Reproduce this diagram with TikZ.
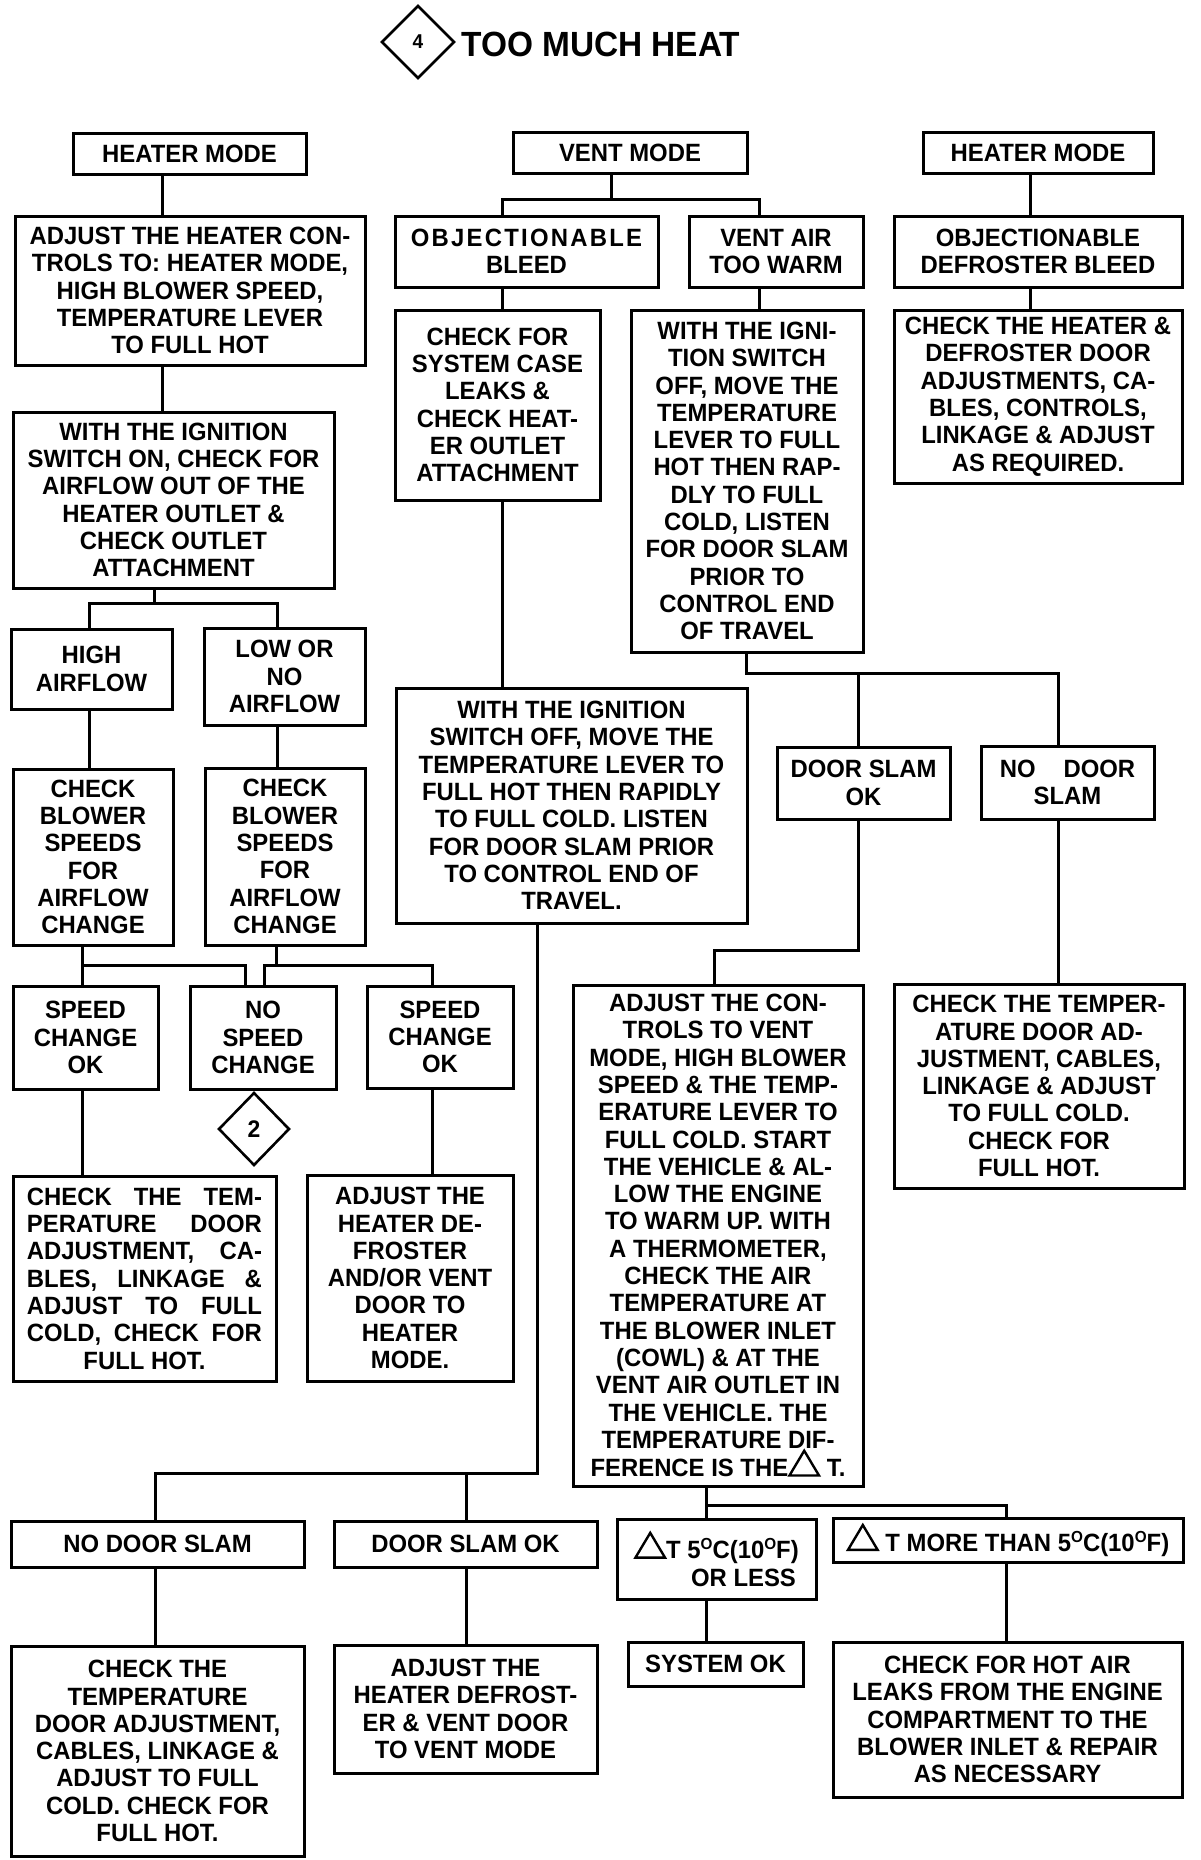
\documentclass[tikz,border=0pt]{standalone}
\usepackage{fontspec}
\usetikzlibrary{shapes.geometric}
\newfontfamily\boxfam{Liberation Sans}[FakeStretch=0.955]
\newcommand\boxfont{\boxfam\bfseries\fontsize{25}{27.3}\selectfont}
\newcommand\dg{\raisebox{9pt}{\fontsize{16}{16}\selectfont O}}
\newcommand\tri{\tikz[baseline=0pt,x=1pt,y=1pt]\draw[line width=2.4pt,line join=miter] (1.2,1.2)--(30.8,1.2)--(16,26)--cycle;}
\newcommand\jl[1]{\makebox[235pt][s]{#1}}
\tikzset{
  box/.style={draw, line width=3pt, inner sep=0pt, align=center, font=\boxfont},
  bx/.style 2 args={box, minimum width=#1pt, minimum height=#2pt},
  conn/.style={line width=3pt, line join=miter},
  mark4/.style={diamond, draw, line width=2.6pt, inner sep=0pt, font=\boxfam\bfseries\fontsize{20}{20}\selectfont},
}
\begin{document}
\begin{tikzpicture}[x=1pt,y=-1pt]
\path[fill=white,use as bounding box] (0,0) rectangle (1200,1860);

% title
\node[mark4, minimum width=73pt, minimum height=73pt] (d4) at (418,42) {4};
\node[anchor=west, inner sep=0pt, font=\boxfam\bfseries\fontsize{35}{35}\selectfont] (title) at (461,44) {TOO MUCH HEAT};

% row 1
\node[bx={233}{41}] (hm1) at (189.5,153.5) {HEATER MODE};
\node[bx={234}{41}] (vm) at (630,152.5) {VENT MODE};
\node[bx={230}{41}] (hm2) at (1038,152.5) {HEATER MODE};

% row 2
\node[bx={350}{149}] (adj) at (190,290.5) {ADJUST THE HEATER CON-\\TROLS TO: HEATER MODE,\\HIGH BLOWER SPEED,\\TEMPERATURE LEVER\\TO FULL HOT};
\node[bx={263}{71}] (ob) at (526.5,251.5) {{\addfontfeature{LetterSpace=9}OBJECTIONABLE}\\BLEED};
\node[bx={174}{71}] (vt) at (776,251.5) {VENT AIR\\TOO WARM};
\node[bx={288}{71}] (odb) at (1038,251.5) {OBJECTIONABLE\\DEFROSTER BLEED};

% row 3
\node[bx={205}{190}] (csc) at (497.5,405) {CHECK FOR\\SYSTEM CASE\\LEAKS \&\\CHECK HEAT-\\ER OUTLET\\ATTACHMENT};
\node[bx={232}{342}] (wio) at (747,481) {WITH THE IGNI-\\TION SWITCH\\OFF, MOVE THE\\TEMPERATURE\\LEVER TO FULL\\HOT THEN RAP-\\DLY TO FULL\\COLD, LISTEN\\FOR DOOR SLAM\\PRIOR TO\\CONTROL END\\OF TRAVEL};
\node[bx={288}{173}] (chd) at (1038,396.5) {CHECK THE HEATER \&\\DEFROSTER DOOR\\ADJUSTMENTS, CA-\\BLES, CONTROLS,\\LINKAGE \& ADJUST\\AS REQUIRED.};
\node[bx={321}{176}] (wi1) at (173.5,500) {WITH THE IGNITION\\SWITCH ON, CHECK FOR\\AIRFLOW OUT OF THE\\HEATER OUTLET \&\\CHECK OUTLET\\ATTACHMENT};

% left column
\node[bx={161}{80}] (ha) at (91.5,669) {HIGH\\AIRFLOW};
\node[bx={161}{97}] (lna) at (284.5,676.5) {LOW OR\\NO\\AIRFLOW};
\node[bx={160}{176}] (cb1) at (93,857) {CHECK\\BLOWER\\SPEEDS\\FOR\\AIRFLOW\\CHANGE};
\node[bx={160}{177}] (cb2) at (285,856.5) {CHECK\\BLOWER\\SPEEDS\\FOR\\AIRFLOW\\CHANGE};
\node[bx={145}{103}] (sc1) at (85.5,1037.5) {SPEED\\CHANGE\\OK};
\node[bx={146}{103}] (nsc) at (263,1037.5) {NO\\SPEED\\CHANGE};
\node[bx={146}{102}] (sc2) at (440,1037) {SPEED\\CHANGE\\OK};
\node[mark4, minimum width=71pt, minimum height=73pt, font=\boxfam\bfseries\fontsize{24}{24}\selectfont] (d2) at (254,1129) {2};
\node[bx={263}{205}] (ctd1) at (144.5,1278.5) {\jl{CHECK THE TEM-}\\\jl{PERATURE DOOR}\\\jl{ADJUSTMENT, CA-}\\\jl{BLES, LINKAGE \&}\\\jl{ADJUST TO FULL}\\\jl{COLD, CHECK FOR}\\FULL HOT.};
\node[bx={206}{206}] (ahd) at (410,1278) {ADJUST THE\\HEATER DE-\\FROSTER\\AND/OR VENT\\DOOR TO\\HEATER\\MODE.};

% middle
\node[bx={351}{235}] (wio2) at (571.5,805.5) {WITH THE IGNITION\\SWITCH OFF, MOVE THE\\TEMPERATURE LEVER TO\\FULL HOT THEN RAPIDLY\\TO FULL COLD. LISTEN\\FOR DOOR SLAM PRIOR\\TO CONTROL END OF\\TRAVEL.};
\node[bx={293}{46}] (nds) at (157.5,1544) {NO DOOR SLAM};
\node[bx={263}{46}] (dsok2) at (465.5,1544) {DOOR SLAM OK};
\node[bx={293}{210}] (ctd2) at (157.5,1751) {CHECK THE\\TEMPERATURE\\DOOR ADJUSTMENT,\\CABLES, LINKAGE \&\\ADJUST TO FULL\\COLD. CHECK FOR\\FULL HOT.};
\node[bx={263}{128}] (ahd2) at (465.5,1709) {ADJUST THE\\HEATER DEFROST-\\ER \& VENT DOOR\\TO VENT MODE};

% right
\node[bx={173}{72}] (dsok1) at (863.5,783) {DOOR SLAM\\OK};
\node[bx={173}{73}] (nds1) at (1067.5,782.5) {NO\hspace{28pt}DOOR\\SLAM};
\node[bx={290}{501}] (adj2) at (718,1235.5) {ADJUST THE CON-\\TROLS TO VENT\\MODE, HIGH BLOWER\\SPEED \& THE TEMP-\\ERATURE LEVER TO\\FULL COLD. START\\THE VEHICLE \& AL-\\LOW THE ENGINE\\TO WARM UP. WITH\\A THERMOMETER,\\CHECK THE AIR\\TEMPERATURE AT\\THE BLOWER INLET\\(COWL) \& AT THE\\VENT AIR OUTLET IN\\THE VEHICLE. THE\\TEMPERATURE DIF-\\FERENCE IS THE\tri\ T.};
\node[bx={290}{204}] (ctt) at (1039,1086) {CHECK THE TEMPER-\\ATURE DOOR AD-\\JUSTMENT, CABLES,\\LINKAGE \& ADJUST\\TO FULL COLD.\\CHECK FOR\\FULL HOT.};
\node[bx={199}{80}] (dt5) at (716.5,1559) {\tri T 5\dg C(10\dg F)\\\hspace*{54pt}OR LESS};
\node[bx={350}{44}] (dtm) at (1008,1540) {\tri\ T MORE THAN 5\dg C(10\dg F)};
\node[bx={175}{44}] (sok) at (715.5,1664) {SYSTEM OK};
\node[bx={349}{155}] (cha) at (1007.5,1719.5) {CHECK FOR HOT AIR\\LEAKS FROM THE ENGINE\\COMPARTMENT TO THE\\BLOWER INLET \& REPAIR\\AS NECESSARY};

% ---- connectors ----
\coordinate (ka) at (162,0);
\draw[conn] (hm1.south -| ka) -- (adj.north -| ka);
\draw[conn] (adj.south -| ka) -- (wi1.north -| ka);

\coordinate (vmj) at (611,199);
\coordinate (vml) at (502,199);
\coordinate (vmr) at (759,199);
\draw[conn] (vm.south -| vmj) -- (vmj);
\draw[conn] (ob.north -| vml) -- (vml) -- (vmr) -- (vt.north -| vmr);
\draw[conn] (ob.south -| vml) -- (csc.north -| vml);
\draw[conn] (csc.south -| vml) -- (wio2.north -| vml);
\draw[conn] (vt.south -| vmr) -- (wio.north -| vmr);

\coordinate (hx) at (1030,0);
\draw[conn] (hm2.south -| hx) -- (odb.north -| hx);
\draw[conn] (odb.south -| hx) -- (chd.north -| hx);

\coordinate (wj) at (154,603);
\coordinate (wl) at (89,603);
\coordinate (wr) at (277,603);
\draw[conn] (wi1.south -| wj) -- (wj);
\draw[conn] (ha.north -| wl) -- (wl) -- (wr) -- (lna.north -| wr);
\draw[conn] (ha.south -| wl) -- (cb1.north -| wl);
\draw[conn] (lna.south -| wr) -- (cb2.north -| wr);

\coordinate (c1) at (82,965);
\coordinate (c1r) at (245,965);
\draw[conn] (cb1.south -| c1) -- (sc1.north -| c1);
\draw[conn] (c1) -- (c1r) -- (nsc.north -| c1r);
\coordinate (c2) at (276,965);
\coordinate (c2l) at (264,965);
\coordinate (c2r) at (432,965);
\draw[conn] (cb2.south -| c2) -- (c2);
\draw[conn] (nsc.north -| c2l) -- (c2l) -- (c2r) -- (sc2.north -| c2r);
\draw[conn] (sc1.south -| c1) -- (ctd1.north -| c1);
\draw[conn] (sc2.south -| c2r) -- (ahd.north -| c2r);

\coordinate (w2j) at (537,1473);
\coordinate (w2l) at (155,1473);
\coordinate (w2m) at (466,1473);
\draw[conn] (wio2.south -| w2j) -- (w2j) -- (w2l) -- (nds.north -| w2l);
\draw[conn] (w2m) -- (dsok2.north -| w2m);
\draw[conn] (nds.south -| w2l) -- (ctd2.north -| w2l);
\draw[conn] (dsok2.south -| w2m) -- (ahd2.north -| w2m);

\coordinate (vj) at (746,673);
\coordinate (vm2) at (858,673);
\coordinate (vr) at (1058,673);
\draw[conn] (wio.south -| vj) -- (vj) -- (vr) -- (nds1.north -| vr);
\draw[conn] (vm2) -- (dsok1.north -| vm2);
\coordinate (dj) at (858,950);
\coordinate (dl) at (714,950);
\draw[conn] (dsok1.south -| dj) -- (dj) -- (dl) -- (adj2.north -| dl);
\draw[conn] (nds1.south -| vr) -- (ctt.north -| vr);

\coordinate (aj) at (706,1505);
\coordinate (ar) at (1006,1505);
\draw[conn] (adj2.south -| aj) -- (aj) -- (ar) -- (dtm.north -| ar);
\draw[conn] (aj) -- (dt5.north -| aj);
\draw[conn] (dt5.south -| aj) -- (sok.north -| aj);
\draw[conn] (dtm.south -| ar) -- (cha.north -| ar);
\end{tikzpicture}
\end{document}
